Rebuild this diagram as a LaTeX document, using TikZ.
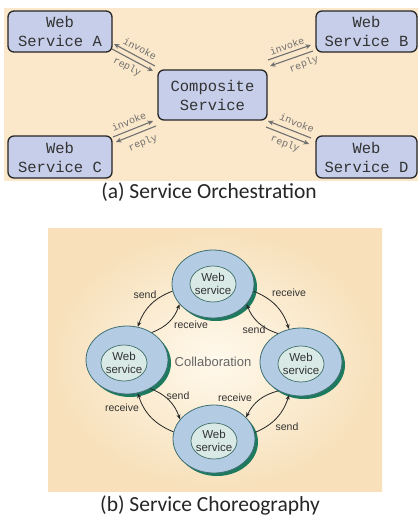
\documentclass[tikz,border=0pt]{standalone}
\usepackage{fontspec}
\setmainfont{Liberation Serif}
\newfontfamily\monof{Liberation Mono}
\newfontfamily\capf{Carlito}
\newfontfamily\sansf{Liberation Sans}
\usetikzlibrary{shapes.geometric,arrows.meta}
\definecolor{tanbg}{HTML}{FBE7C9}
\definecolor{boxfill}{HTML}{C6CEEA}
\definecolor{boxdraw}{HTML}{262626}
\definecolor{txtdark}{HTML}{333333}
\definecolor{arrgray}{HTML}{707070}
\definecolor{bgin}{HTML}{FFF9EC}
\definecolor{bgout}{HTML}{F7E0BA}
\definecolor{ringfill}{HTML}{B4CCE3}
\definecolor{ringdraw}{HTML}{3E6F73}
\definecolor{shadowg}{HTML}{1E7A5E}
\definecolor{innerfill}{HTML}{D8E9E6}
\definecolor{innerdraw}{HTML}{3F6E68}
\tikzset{
  wsbox/.style={draw=boxdraw, line width=1.3pt, fill=boxfill, rounded corners=6pt,
    inner sep=0pt, align=center, text=txtdark,
    font=\monof\fontsize{15.5}{19}\selectfont},
  garr/.style={draw=arrgray, line width=1.1pt, -{Stealth[length=5.5pt,width=5pt]}},
  glabel/.style={text=arrgray, inner sep=0pt, font=\monof\fontsize{10}{11}\selectfont},
  wsshadow/.style={ellipse, fill=shadowg, minimum width=82, minimum height=68, inner sep=0pt},
  wsring/.style={ellipse, draw=ringdraw, line width=0.8pt, fill=ringfill, minimum width=82, minimum height=68, inner sep=0pt},
  wsinner/.style={ellipse, draw=innerdraw, line width=0.7pt, fill=innerfill, minimum width=46, minimum height=36, inner sep=0pt},
  wstext/.style={align=center, inner sep=0pt, text=txtdark, font=\sansf\fontsize{11.5}{12.5}\selectfont},
  carr/.style={draw=black!85, line width=0.8pt, -{Stealth[length=5pt,width=4pt]}},
  clabel/.style={inner sep=0pt, text=txtdark, font=\sansf\fontsize{10.5}{12}\selectfont},
  captext/.style={inner sep=0pt, text=black!85, font=\capf\fontsize{21.5}{24}\selectfont}
}
\begin{document}
\begin{tikzpicture}[x=1pt,y=-1pt]
\useasboundingbox (0,0) rectangle (418,525);
\fill[white] (0,0) rectangle (418,525);
% ---------- (a) orchestration ----------
\fill[tanbg] (4,8) rectangle (418,181);
\node[wsbox, minimum width=104, minimum height=41] (A) at (60,31.5) {Web\\Service A};
\node[wsbox, minimum width=101, minimum height=41] (Bx) at (366.5,31.5) {Web\\Service B};
\node[wsbox, minimum width=104, minimum height=42] (C) at (60,157) {Web\\Service C};
\node[wsbox, minimum width=101, minimum height=42] (D) at (366.5,157) {Web\\Service D};
\node[wsbox, minimum width=109, minimum height=50] (CS) at (212.5,95) {Composite\\Service};
% A <-> composite
\coordinate (a1) at (114,44); \coordinate (a2) at (155,66);
\coordinate (a3) at (112,49); \coordinate (a4) at (153,71);
\draw[garr] (a2) -- (a1);
\draw[garr] (a3) -- (a4);
\node[glabel, rotate=-28] (la1) at (140,48.5) {invoke};
\node[glabel, rotate=-28] (la2) at (127,67) {reply};
% B <-> composite
\coordinate (b1) at (268,60); \coordinate (b2) at (311,45);
\coordinate (b3) at (270,66); \coordinate (b4) at (313,51);
\draw[garr] (b1) -- (b2);
\draw[garr] (b4) -- (b3);
\node[glabel, rotate=20] (lb1) at (287,46) {invoke};
\node[glabel, rotate=20] (lb2) at (304,64.5) {reply};
% C <-> composite
\coordinate (c1) at (113,137); \coordinate (c2) at (153,121);
\coordinate (c3) at (116,142); \coordinate (c4) at (156,126);
\draw[garr] (c1) -- (c2);
\draw[garr] (c4) -- (c3);
\node[glabel, rotate=22] (lc1) at (129,121.5) {invoke};
\node[glabel, rotate=22] (lc2) at (143,143) {reply};
% D <-> composite
\coordinate (d1) at (268,121); \coordinate (d2) at (311,138);
\coordinate (d3) at (266,127); \coordinate (d4) at (309,144);
\draw[garr] (d2) -- (d1);
\draw[garr] (d3) -- (d4);
\node[glabel, rotate=-22] (ld1) at (297,123) {invoke};
\node[glabel, rotate=-22] (ld2) at (285,144) {reply};
\node[captext] (capa) at (209,192) {(a) Service Orchestration};
% ---------- (b) choreography ----------
\shade[inner color=bgin, outer color=bgout] (48,228) rectangle (382,491);
\node[wsshadow] (Ts) at (216,287) {};
\node[wsshadow] (Ls) at (130,363) {};
\node[wsshadow] (Rs) at (304,365) {};
\node[wsshadow] (Bs) at (217,442) {};
\node[wsring] (T) at (213,284) {};
\node[wsring] (L) at (127,360) {};
\node[wsring] (R) at (301,362) {};
\node[wsring] (B) at (214,439) {};
\node[wsinner] (Ti) at (213,284) {};
\node[wsinner] (Li) at (124,363) {};
\node[wsinner] (Ri) at (301,364) {};
\node[wsinner] (Bi) at (214,441) {};
\node[wstext] (Tt) at (Ti) {Web\\service};
\node[wstext] (Lt) at (Li) {Web\\service};
\node[wstext] (Rt) at (Ri) {Web\\service};
\node[wstext] (Bt) at (Bi) {Web\\service};
\node[inner sep=0pt, text=black!60, font=\sansf\fontsize{13}{14}\selectfont] (collab) at (213,362) {Collaboration};
% arcs
\draw[carr] (T.190) to[bend right=25] (L.72);
\draw[carr] (L.48) to[bend right=25] (T.211);
\draw[carr] (T.350) to[bend left=25] (R.110);
\draw[carr] (R.129) to[bend left=25] (T.329);
\draw[carr] (L.309) to[bend left=25] (B.150);
\draw[carr] (B.170) to[bend left=25] (L.288);
\draw[carr] (R.232) to[bend right=25] (B.34);
\draw[carr] (B.9) to[bend right=25] (R.250);
\node[clabel] (s1) at (145,295) {send};
\node[clabel] (r1) at (191,325) {receive};
\node[clabel] (r2) at (289,293) {receive};
\node[clabel] (s2) at (254,330) {send};
\node[clabel] (s3) at (178,396) {send};
\node[clabel] (r3) at (122,408) {receive};
\node[clabel] (r4) at (235,398) {receive};
\node[clabel] (s4) at (287,427) {send};
\node[captext] (capb) at (210,505) {(b) Service Choreography};
\end{tikzpicture}
\end{document}
